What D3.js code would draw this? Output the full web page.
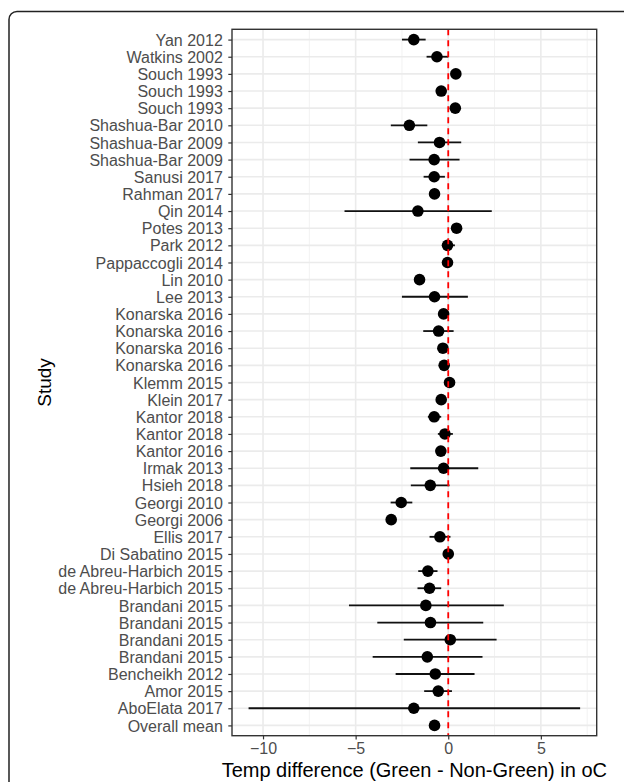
<!DOCTYPE html>
<html><head><meta charset="utf-8">
<script src="https://cdn.jsdelivr.net/npm/d3@7"></script>
<style>body{margin:0;background:#fff;}svg{display:block;font-family:"Liberation Sans",Arial,sans-serif;}</style>
</head><body>
<script>
const studies = ["Yan 2012","Watkins 2002","Souch 1993","Souch 1993","Souch 1993","Shashua-Bar 2010","Shashua-Bar 2009","Shashua-Bar 2009","Sanusi 2017","Rahman 2017","Qin 2014","Potes 2013","Park 2012","Pappaccogli 2014","Lin 2010","Lee 2013","Konarska 2016","Konarska 2016","Konarska 2016","Konarska 2016","Klemm 2015","Klein 2017","Kantor 2018","Kantor 2018","Kantor 2016","Irmak 2013","Hsieh 2018","Georgi 2010","Georgi 2006","Ellis 2017","Di Sabatino 2015","de Abreu-Harbich 2015","de Abreu-Harbich 2015","Brandani 2015","Brandani 2015","Brandani 2015","Brandani 2015","Bencheikh 2012","Amor 2015","AboElata 2017","Overall mean"];
const means = [-1.86,-0.61,0.41,-0.38,0.38,-2.10,-0.47,-0.76,-0.76,-0.74,-1.64,0.45,-0.04,-0.04,-1.55,-0.74,-0.25,-0.52,-0.29,-0.22,0.07,-0.38,-0.76,-0.18,-0.40,-0.25,-0.97,-2.54,-3.08,-0.45,0.00,-1.10,-1.01,-1.21,-0.96,0.11,-1.13,-0.70,-0.54,-1.86,-0.74];
const lower = [-2.50,-1.17,0.41,-0.38,0.38,-3.10,-1.64,-2.09,-1.33,-0.74,-5.60,0.45,-0.32,-0.04,-1.55,-2.50,-0.25,-1.35,-0.29,-0.22,0.07,-0.38,-1.10,-0.56,-0.40,-2.05,-2.02,-3.11,-3.08,-1.01,0.00,-1.62,-1.66,-5.36,-3.83,-2.40,-4.08,-2.84,-1.30,-10.78,-0.74];
const upper = [-1.22,0.00,0.41,-0.38,0.38,-1.13,0.70,0.61,-0.18,-0.74,2.35,0.45,0.36,-0.04,-1.55,1.06,-0.25,0.29,-0.29,-0.22,0.07,-0.38,-0.38,0.25,-0.40,1.62,0.07,-1.94,-3.08,0.12,0.00,-0.58,-0.38,3.00,1.89,2.61,1.85,1.42,0.20,7.12,-0.74];
const xTicks = [-10,-5,0,5];
const xMinor = [-7.5,-2.5,2.5,7.5];
const refLine = 0;

const W = 624, H = 782;
const svg = d3.select("body").append("svg").attr("width", W).attr("height", H);

// outer frame
svg.append("rect").attr("x",9).attr("y",11.5).attr("width",640).attr("height",800).attr("rx",8)
  .attr("fill","none").attr("stroke","#222").attr("stroke-width",1.5);

const pL = 232, pR = 596.7, pT = 29.3, pB = 735.7;
const dmin = d3.min(lower), dmax = d3.max(upper), ex = 0.05*(dmax-dmin);
const x = d3.scaleLinear().domain([dmin-ex, dmax+ex]).range([pL, pR]);
const y = d3.scalePoint().domain(d3.range(studies.length)).range([pT, pB]).padding(0.6);

const g = svg.append("g");
// grid
g.selectAll(".vmin").data(xMinor.filter(v=>x(v)>=pL && x(v)<=pR)).join("line")
  .attr("x1",d=>x(d)).attr("x2",d=>x(d)).attr("y1",pT).attr("y2",pB).attr("stroke","#f2f2f2").attr("stroke-width",1);
g.selectAll(".vmaj").data(xTicks).join("line")
  .attr("x1",d=>x(d)).attr("x2",d=>x(d)).attr("y1",pT).attr("y2",pB).attr("stroke","#ebebeb").attr("stroke-width",1.6);
g.selectAll(".hmaj").data(d3.range(studies.length)).join("line")
  .attr("x1",pL).attr("x2",pR).attr("y1",d=>y(d)).attr("y2",d=>y(d)).attr("stroke","#ebebeb").attr("stroke-width",1.6);

// error bars
g.selectAll(".eb").data(d3.range(studies.length)).join("line")
  .attr("x1",i=>x(lower[i])).attr("x2",i=>x(upper[i])).attr("y1",i=>y(i)).attr("y2",i=>y(i))
  .attr("stroke","#111").attr("stroke-width",1.8);
// points
g.selectAll(".pt").data(d3.range(studies.length)).join("circle")
  .attr("cx",i=>x(means[i])).attr("cy",i=>y(i)).attr("r",5.8).attr("fill","#000");
// ref line
g.append("line").attr("x1",x(refLine)).attr("x2",x(refLine)).attr("y1",pT).attr("y2",pB)
  .attr("stroke","#ff0000").attr("stroke-width",1.8).attr("stroke-dasharray","6,5");

// panel border
svg.append("rect").attr("x",pL).attr("y",pT).attr("width",pR-pL).attr("height",pB-pT)
  .attr("fill","none").attr("stroke","#333").attr("stroke-width",1.4);

// axes
const yAxis = d3.axisLeft(y).tickFormat(i=>studies[i]).tickSize(3.7).tickPadding(5.5);
const ya = svg.append("g").attr("transform",`translate(${pL},0)`).call(yAxis);
ya.select(".domain").remove();
ya.selectAll("line").attr("stroke","#333").attr("stroke-width",1.2);
ya.selectAll("text").attr("fill","#4d4d4d").attr("font-size",16).attr("dy","0.35em");

const xAxis = d3.axisBottom(x).tickValues(xTicks).tickSize(3.7).tickPadding(3).tickFormat(d3.format("d"));
const xa = svg.append("g").attr("transform",`translate(0,${pB})`).call(xAxis);
xa.select(".domain").remove();
xa.selectAll("line").attr("stroke","#333").attr("stroke-width",1.2);
xa.selectAll("text").attr("fill","#4d4d4d").attr("font-size",16);

svg.append("text").attr("x",(pL+pR)/2).attr("y",777).attr("text-anchor","middle")
  .attr("font-size",20).attr("fill","#000").text("Temp difference (Green - Non-Green) in oC");
svg.append("text").attr("transform",`translate(51,${(pT+pB)/2}) rotate(-90)`).attr("text-anchor","middle")
  .attr("font-size",19).attr("fill","#000").text("Study");
</script>
</body></html>
